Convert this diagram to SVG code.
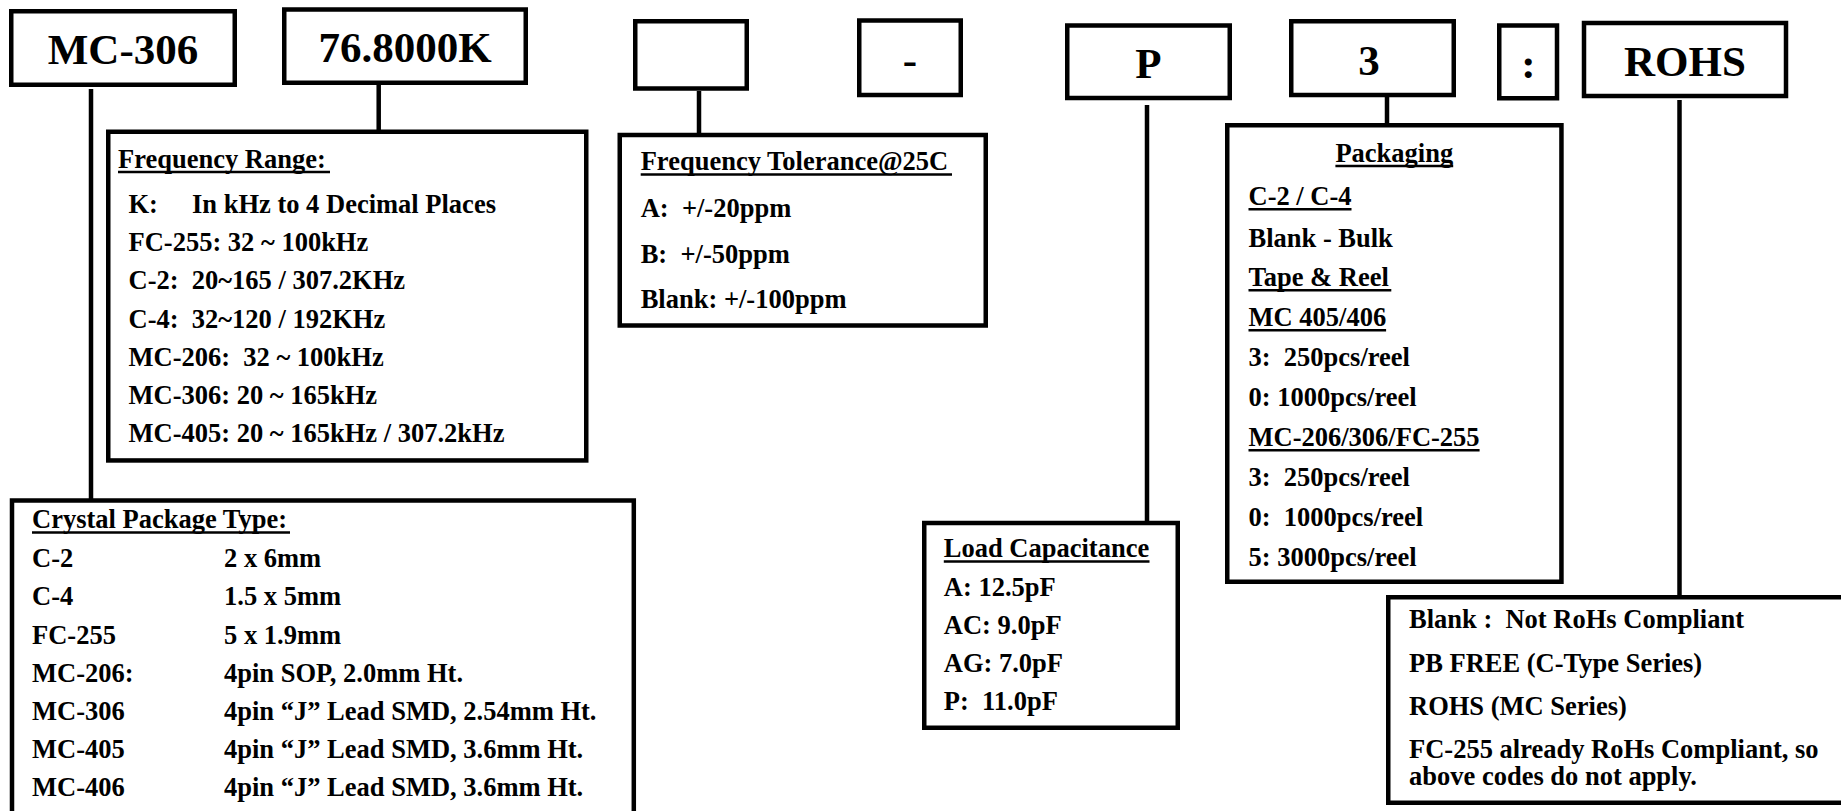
<svg xmlns="http://www.w3.org/2000/svg" width="1841" height="811" viewBox="0 0 1841 811">
<style>
.box{fill:#fff;stroke:#000;stroke-width:4.5}
.conn{stroke:#000;stroke-width:4.5;fill:none}
.ul{stroke:#000;stroke-width:2.5}
text{font-family:"Liberation Serif","Times New Roman",serif;font-weight:bold;fill:#000;white-space:pre}
.big{font-size:43px;text-anchor:middle}
.t{font-size:26.5px}
</style>
<rect width="1841" height="811" fill="#fff"/>
<g id="connectors">
<line class="conn" x1="91" y1="89" x2="91" y2="500"/>
<line class="conn" x1="378.7" y1="85" x2="378.7" y2="131"/>
<line class="conn" x1="699" y1="91" x2="699" y2="134"/>
<line class="conn" x1="1147" y1="105" x2="1147" y2="522"/>
<line class="conn" x1="1387" y1="97" x2="1387" y2="124"/>
<line class="conn" x1="1679.5" y1="100" x2="1679.5" y2="597"/>
</g>
<g id="code-series"><rect class="box" x="11.25" y="11.25" width="223.5" height="73.5"/><text class="big" x="123" y="64">MC-306</text></g>
<g id="code-frequency"><rect class="box" x="284.25" y="9.5" width="241.5" height="73.25"/><text class="big" x="405" y="62">76.8000K</text></g>
<g id="code-tolerance"><rect class="box" x="635.25" y="21.25" width="111.5" height="67.25"/></g>
<g id="code-dash"><rect class="box" x="859.25" y="20.5" width="101.5" height="74.5"/><text class="big" x="910" y="74">-</text></g>
<g id="code-load"><rect class="box" x="1067.25" y="25.5" width="162.5" height="72.5"/><text class="big" x="1148.5" y="78">P</text></g>
<g id="code-packaging"><rect class="box" x="1291.25" y="21.25" width="162.5" height="73.75"/><text class="big" x="1369" y="75">3</text></g>
<g id="code-colon"><rect class="box" x="1499.25" y="25.5" width="57.75" height="72.75"/><text class="big" x="1528.5" y="78">:</text></g>
<g id="code-rohs"><rect class="box" x="1584" y="23" width="202" height="73"/><text class="big" x="1685" y="76">ROHS</text></g>

<g id="frequency-range">
<rect class="box" x="108.25" y="131.75" width="478" height="328.7"/>
<text class="t" x="118" y="167.7">Frequency Range:</text>
<line class="ul" x1="118" y1="172" x2="330" y2="172"/>
<text class="t" x="128.5" y="213.3">K:<tspan x="192">In kHz to 4 Decimal Places</tspan></text>
<text class="t" x="128.5" y="251.3">FC-255: 32 ~ 100kHz</text>
<text class="t" x="128.5" y="289.4" xml:space="preserve">C-2:  20~165 / 307.2KHz</text>
<text class="t" x="128.5" y="327.5" xml:space="preserve">C-4:  32~120 / 192KHz</text>
<text class="t" x="128.5" y="365.7" xml:space="preserve">MC-206:  32 ~ 100kHz</text>
<text class="t" x="128.5" y="404">MC-306: 20 ~ 165kHz</text>
<text class="t" x="128.5" y="442.3">MC-405: 20 ~ 165kHz / 307.2kHz</text>
</g>

<g id="frequency-tolerance">
<rect class="box" x="619.75" y="135" width="366" height="190.5"/>
<text class="t" x="640.7" y="170">Frequency Tolerance@25C</text>
<line class="ul" x1="640.7" y1="174.5" x2="952" y2="174.5"/>
<text class="t" x="640.7" y="216.7" xml:space="preserve">A:  +/-20ppm</text>
<text class="t" x="640.7" y="262.7" xml:space="preserve">B:  +/-50ppm</text>
<text class="t" x="640.7" y="308.3">Blank: +/-100ppm</text>
</g>

<g id="crystal-package">
<rect class="box" x="12" y="500.5" width="621.8" height="340"/>
<text class="t" x="32" y="528.3">Crystal Package Type:</text>
<line class="ul" x1="32" y1="532.5" x2="290" y2="532.5"/>
<text class="t" x="32" y="567.3">C-2<tspan x="224">2 x 6mm</tspan></text>
<text class="t" x="32" y="605.3">C-4<tspan x="224">1.5 x 5mm</tspan></text>
<text class="t" x="32" y="643.7">FC-255<tspan x="224">5 x 1.9mm</tspan></text>
<text class="t" x="32" y="681.8">MC-206:<tspan x="224">4pin SOP, 2.0mm Ht.</tspan></text>
<text class="t" x="32" y="720.2">MC-306<tspan x="224">4pin “J” Lead SMD, 2.54mm Ht.</tspan></text>
<text class="t" x="32" y="758.3">MC-405<tspan x="224">4pin “J” Lead SMD, 3.6mm Ht.</tspan></text>
<text class="t" x="32" y="796.3">MC-406<tspan x="224">4pin “J” Lead SMD, 3.6mm Ht.</tspan></text>
</g>

<g id="load-capacitance">
<rect class="box" x="924.25" y="523" width="253.5" height="204.75"/>
<text class="t" x="943.8" y="557.3">Load Capacitance</text>
<line class="ul" x1="943.8" y1="561.5" x2="1149.5" y2="561.5"/>
<text class="t" x="943.8" y="596">A: 12.5pF</text>
<text class="t" x="943.8" y="634">AC: 9.0pF</text>
<text class="t" x="943.8" y="672">AG: 7.0pF</text>
<text class="t" x="943.8" y="710" xml:space="preserve">P:  11.0pF</text>
</g>

<g id="packaging">
<rect class="box" x="1227.25" y="125.25" width="334.2" height="456.5"/>
<text class="t" x="1394.3" y="161.7" text-anchor="middle">Packaging</text>
<line class="ul" x1="1335.4" y1="166" x2="1453.2" y2="166"/>
<text class="t" x="1248.5" y="205">C-2 / C-4</text>
<line class="ul" x1="1248.5" y1="209.3" x2="1351.5" y2="209.3"/>
<text class="t" x="1248.5" y="246.7">Blank - Bulk</text>
<text class="t" x="1248.5" y="286">Tape &amp; Reel</text>
<line class="ul" x1="1248.5" y1="290.3" x2="1391.3" y2="290.3"/>
<text class="t" x="1248.5" y="326">MC 405/406</text>
<line class="ul" x1="1248.5" y1="330.3" x2="1386.1" y2="330.3"/>
<text class="t" x="1248.5" y="366.3" xml:space="preserve">3:  250pcs/reel</text>
<text class="t" x="1248.5" y="406">0: 1000pcs/reel</text>
<text class="t" x="1248.5" y="446">MC-206/306/FC-255</text>
<line class="ul" x1="1248.5" y1="450.3" x2="1479.6" y2="450.3"/>
<text class="t" x="1248.5" y="486.3" xml:space="preserve">3:  250pcs/reel</text>
<text class="t" x="1248.5" y="525.7" xml:space="preserve">0:  1000pcs/reel</text>
<text class="t" x="1248.5" y="565.7">5: 3000pcs/reel</text>
</g>

<g id="rohs">
<rect class="box" x="1388.25" y="597.25" width="500" height="205.5"/>
<text class="t" x="1409" y="628.3" xml:space="preserve">Blank :  Not RoHs Compliant</text>
<text class="t" x="1409" y="671.7">PB FREE (C-Type Series)</text>
<text class="t" x="1409" y="715">ROHS (MC Series)</text>
<text class="t" x="1409" y="758.3">FC-255 already RoHs Compliant, so</text>
<text class="t" x="1409" y="785">above codes do not apply.</text>
</g>
</svg>
